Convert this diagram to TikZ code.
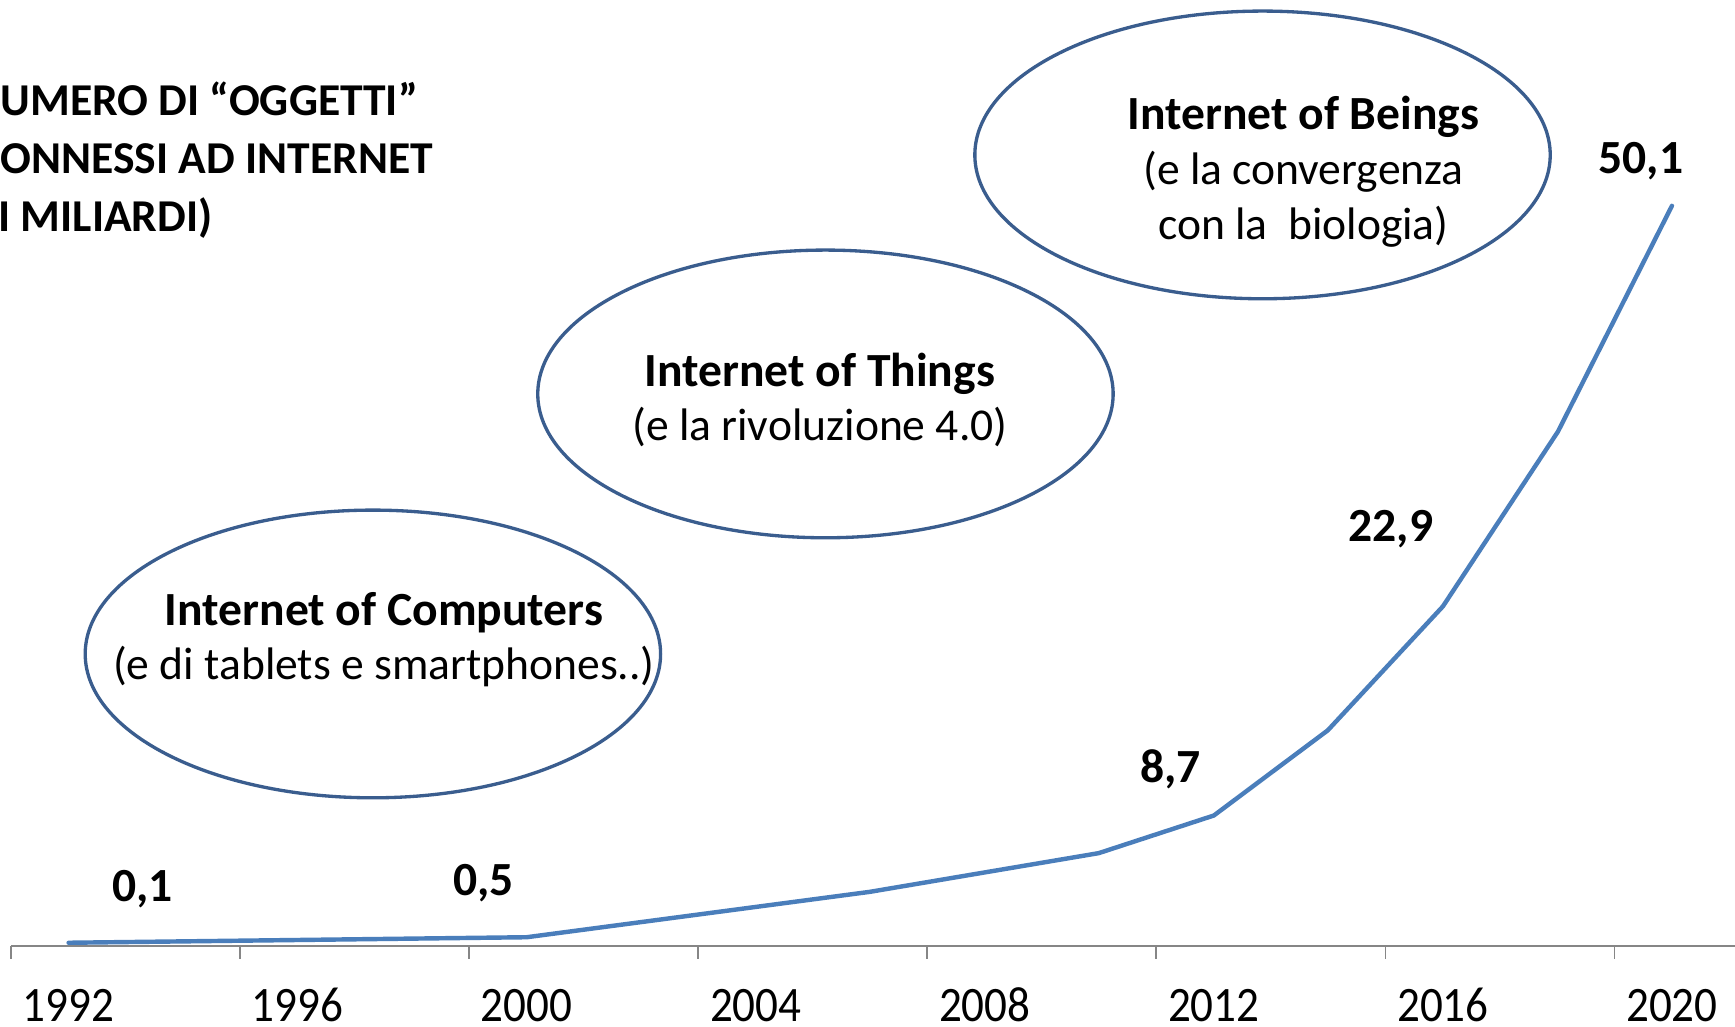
\documentclass[tikz,border=0pt]{standalone}
\usepackage{fontspec}
\setmainfont{Carlito}
\usetikzlibrary{shapes.geometric}
\definecolor{ellblue}{HTML}{3A5D8E}
\definecolor{serblue}{HTML}{4A7EBB}
\definecolor{axgray}{HTML}{868686}
\begin{document}
\begin{tikzpicture}[x=0.5pt,y=-0.5pt,
  bubble/.style={draw=ellblue, line width=1.5pt, ellipse, inner sep=0pt,
    minimum width=260pt, minimum height=130pt},
  headtxt/.style={font=\fontsize{21.5}{26}\selectfont\bfseries, anchor=base, inner sep=0pt},
  subtxt/.style={font=\fontsize{20.6}{25}\selectfont, anchor=base, inner sep=0pt},
  valtxt/.style={font=\fontsize{21.5}{26}\selectfont\bfseries, anchor=base, inner sep=0pt},
  titletxt/.style={font=\fontsize{20.6}{25}\selectfont\bfseries, anchor=base west, inner sep=0pt},
  yeartxt/.style={font=\fontsize{22.4}{26}\selectfont, anchor=base, inner sep=0pt, text depth=0pt},
  axisline/.style={draw=axgray, line width=0.75pt},
  series/.style={draw=serblue, line width=2pt, line join=round, line cap=round}]
\useasboundingbox (0,0) rectangle (1568,928);
\fill[white] (0,0) rectangle (1568,928);

% title (clipped at left in the reference)
\node[titletxt] (t1) at (0,104) {UMERO DI “OGGETTI”};
\node[titletxt] (t2) at (0,157) {ONNESSI AD INTERNET};
\node[titletxt] (t3) at (-2,209) {I MILIARDI)};

% ellipses
\node[bubble] (eC) at (337,591) {};
\node[bubble] (eT) at (746,356) {};
\node[bubble] (eB) at (1141,140) {};

\node[headtxt] (hC) at (347,565) {Internet of Computers};
\node[subtxt]  (sC) at (347,614) {(e di tablets e smartphones..)};
\node[headtxt] (hT) at (741,349) {Internet of Things};
\node[subtxt]  (sT) at (741,398) {(e la rivoluzione 4.0)};
\node[headtxt] (hB) at (1178,117) {Internet of Beings};
\node[subtxt]  (sB1) at (1178,167) {(e la convergenza};
\node[subtxt]  (sB2) at (1178,216) {con la\ \ biologia)};

% axis
\coordinate (axL) at (10,855);
\coordinate (axR) at (1568,855);
\draw[axisline] (axL) -- (axR);
\foreach \x in {10,217,424,631,838,1045,1252,1459} {
  \draw[axisline] (\x,855) -- (\x,867);
}
\foreach \yr [count=\i from 0] in {1992,1996,2000,2004,2008,2012,2016,2020} {
  \node[yeartxt] (y\yr) at ({62+207*\i},923) {\scalebox{0.91}[1]{\yr}};
}

% series
\coordinate (p1) at (62,852);
\coordinate (p2) at (476,847);
\coordinate (p3) at (786,806);
\coordinate (p4) at (993,771);
\coordinate (p5) at (1097,737);
\coordinate (p6) at (1200,660);
\coordinate (p7) at (1304,548);
\coordinate (p8) at (1408,390);
\coordinate (p9) at (1511,186);
\draw[series] (p1) -- (p2) -- (p3) -- (p4) -- (p5) -- (p6) -- (p7) -- (p8) -- (p9);

% value labels
\node[valtxt] (v1) at (129,815) {0,1};
\node[valtxt] (v2) at (437,809) {0,5};
\node[valtxt] (v3) at (1058,707) {8,7};
\node[valtxt] (v4) at (1257,489) {22,9};
\node[valtxt] (v5) at (1483,157) {50,1};
\end{tikzpicture}
\end{document}
